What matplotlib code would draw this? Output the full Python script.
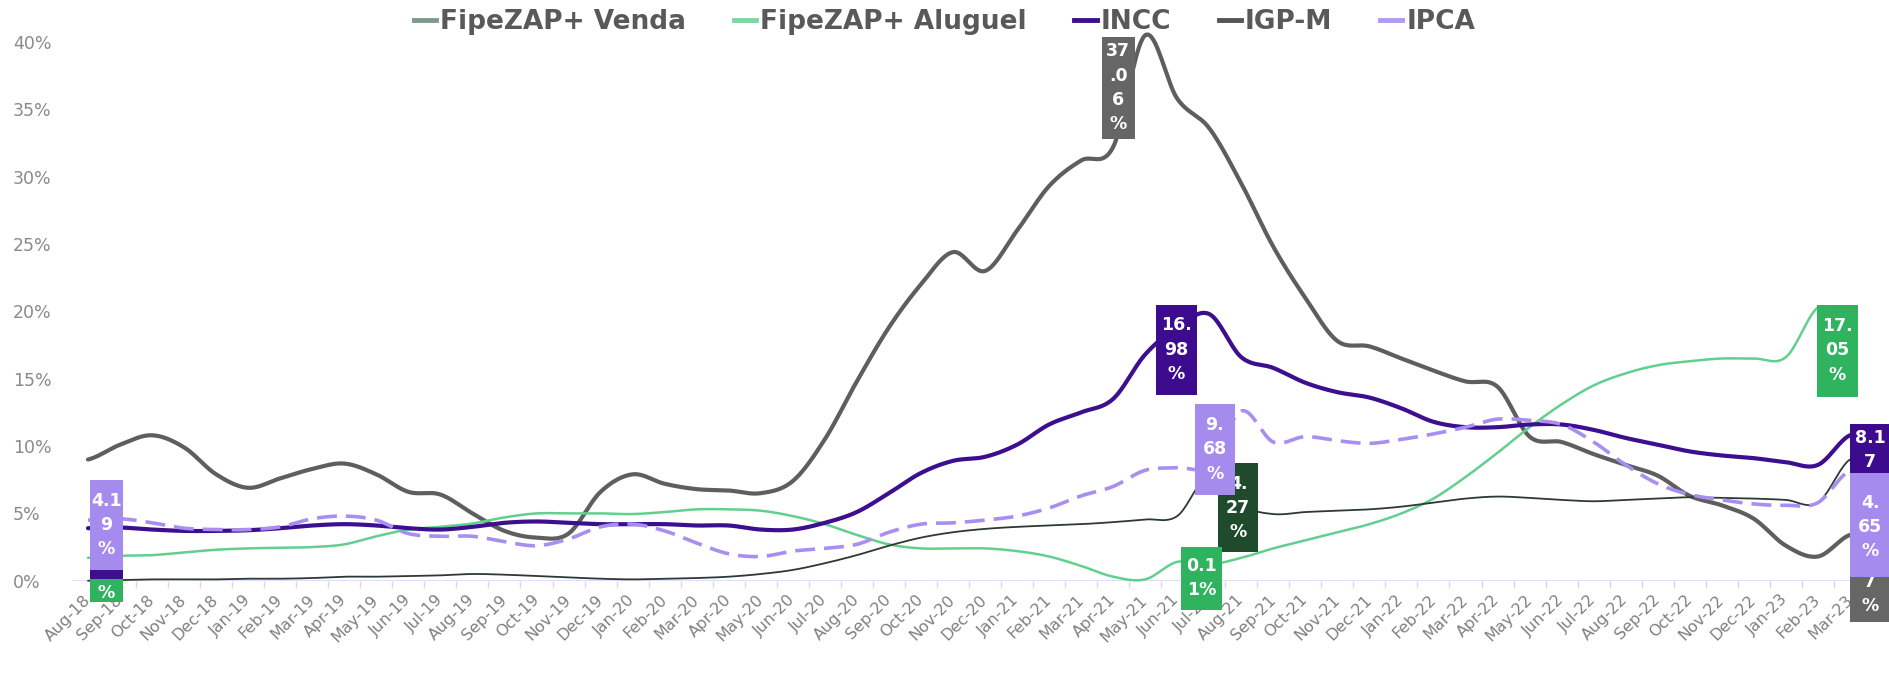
import numpy as np
import matplotlib
matplotlib.use('Agg')
from matplotlib import pyplot as plt
from matplotlib.lines import Line2D
from matplotlib.patches import Rectangle

months = ['Aug-18', 'Sep-18', 'Oct-18', 'Nov-18', 'Dec-18',
          'Jan-19', 'Feb-19', 'Mar-19', 'Apr-19', 'May-19', 'Jun-19',
          'Jul-19', 'Aug-19', 'Sep-19', 'Oct-19', 'Nov-19', 'Dec-19',
          'Jan-20', 'Feb-20', 'Mar-20', 'Apr-20', 'May-20', 'Jun-20',
          'Jul-20', 'Aug-20', 'Sep-20', 'Oct-20', 'Nov-20', 'Dec-20',
          'Jan-21', 'Feb-21', 'Mar-21', 'Apr-21', 'May-21', 'Jun-21',
          'Jul-21', 'Aug-21', 'Sep-21', 'Oct-21', 'Nov-21', 'Dec-21',
          'Jan-22', 'Feb-22', 'Mar-22', 'Apr-22', 'May-22', 'Jun-22',
          'Jul-22', 'Aug-22', 'Sep-22', 'Oct-22', 'Nov-22', 'Dec-22',
          'Jan-23', 'Feb-23', 'Mar-23']

# 12-month variation (%)
venda = [0.0, 0.05, 0.1, 0.1, 0.1, 0.15, 0.15, 0.2, 0.3, 0.3, 0.35,
         0.4, 0.5, 0.45, 0.35, 0.25, 0.15, 0.1, 0.15, 0.2, 0.3,
         0.5, 0.8, 1.3, 1.9, 2.6, 3.2, 3.6, 3.85, 4.0, 4.1,
         4.2, 4.35, 4.55, 4.8, 7.8, 5.6, 4.95, 5.1, 5.2, 5.3,
         5.5, 5.8, 6.1, 6.25, 6.15, 6.0, 5.9, 6.0, 6.1, 6.2,
         6.15, 6.1, 6.0, 5.8, 9.0]
aluguel = [1.7, 1.85, 1.9, 2.1, 2.3, 2.4, 2.45, 2.5, 2.7, 3.3, 3.8,
           4.0, 4.25, 4.7, 5.0, 5.0, 5.0, 4.95, 5.1, 5.3, 5.3,
           5.2, 4.8, 4.2, 3.4, 2.7, 2.4, 2.4, 2.4, 2.2, 1.8,
           1.1, 0.3, 0.1, 1.4, 1.2, 1.7, 2.4, 3.0, 3.6, 4.2,
           5.0, 6.1, 7.7, 9.5, 11.4, 13.1, 14.5, 15.4, 16.0, 16.3,
           16.5, 16.5, 16.6, 20.3]
incc = [3.9, 3.95, 3.8, 3.7, 3.7, 3.75, 3.9, 4.1, 4.2, 4.1, 3.9,
        3.8, 4.0, 4.3, 4.4, 4.3, 4.2, 4.2, 4.2, 4.1, 4.1,
        3.8, 3.8, 4.3, 5.1, 6.5, 8.0, 8.9, 9.2, 10.1, 11.6,
        12.5, 13.5, 16.8, 18.8, 19.8, 16.6, 15.8, 14.7, 14.0, 13.6,
        12.8, 11.8, 11.4, 11.4, 11.6, 11.6, 11.2, 10.6, 10.1, 9.6,
        9.3, 9.1, 8.8, 8.6, 10.8]
igpm = [9.0, 10.1, 10.8, 9.9, 7.9, 6.9, 7.6, 8.3, 8.7, 7.9, 6.6,
        6.4, 5.0, 3.7, 3.2, 3.5, 6.6, 7.9, 7.2, 6.8, 6.7,
        6.5, 7.4, 10.5, 14.8, 18.8, 22.0, 24.4, 23.0, 26.0, 29.3,
        31.2, 32.2, 40.5, 35.8, 33.6, 29.5, 24.8, 21.0, 17.8, 17.4,
        16.5, 15.6, 14.8, 14.4, 10.7, 10.3, 9.4, 8.6, 7.8, 6.3,
        5.6, 4.6, 2.6, 1.8, 3.4]
ipca = [4.5, 4.6, 4.3, 3.9, 3.8, 3.8, 4.0, 4.6, 4.8, 4.5, 3.5,
        3.3, 3.3, 2.9, 2.6, 3.1, 4.0, 4.2, 3.7, 2.8, 2.0,
        1.8, 2.2, 2.4, 2.7, 3.6, 4.2, 4.3, 4.5, 4.8, 5.4,
        6.3, 7.0, 8.2, 8.4, 8.6, 12.6, 10.3, 10.7, 10.4, 10.2,
        10.5, 10.9, 11.4, 12.0, 11.9, 11.6, 10.3, 8.6, 7.2, 6.4,
        6.0, 5.7, 5.6, 5.8, 8.2]


def smooth(vals, steps=20):
    # excel-like smoothed line (catmull-rom)
    y = np.array(vals, dtype=float)
    n = len(y)
    xs, ys = [], []
    t = np.linspace(0, 1, steps, endpoint=False)
    h00 = 2*t**3 - 3*t**2 + 1
    h10 = t**3 - 2*t**2 + t
    h01 = -2*t**3 + 3*t**2
    h11 = t**3 - t**2
    for i in range(n - 1):
        p0 = y[max(i - 1, 0)]
        p3 = y[min(i + 2, n - 1)]
        m1 = (y[i + 1] - p0) / 2
        m2 = (p3 - y[i]) / 2
        xs.extend(i + t)
        ys.extend(h00*y[i] + h10*m1 + h01*y[i + 1] + h11*m2)
    xs.append(n - 1)
    ys.append(y[-1])
    return np.array(xs), np.array(ys)


c_venda = '#2c3a31'
c_alug = '#62cf8e'
c_incc = '#3d0e8e'
c_igpm = '#5e5e5e'
c_ipca = '#a98ef2'

fig = plt.figure(figsize=(18.89, 6.73), dpi=100)
ax = fig.add_axes([0.0381, 0.1371, 0.9497, 0.8005])

ax.axhline(0, color='#ddd5f5', lw=1.2, zorder=1)

for vals, col, lw in [(igpm, c_igpm, 3.0),
                      (aluguel, c_alug, 1.8),
                      (venda, c_venda, 1.3),
                      (incc, c_incc, 3.0)]:
    xs, ys = smooth(vals)
    ax.plot(xs, ys, color=col, lw=lw, zorder=3, clip_on=False,
            solid_capstyle='round')
xs, ys = smooth(ipca)
ax.plot(xs, ys, color=c_ipca, lw=2.6, dashes=(5.5, 2.5), zorder=3,
        clip_on=False)

ax.set_xlim(-0.5, 55.5)
ax.set_ylim(0, 40)
ax.set_yticks(np.arange(0, 41, 5))
ax.set_yticklabels(['%d%%' % v for v in range(0, 41, 5)])
for lab in ax.get_yticklabels():
    lab.set_horizontalalignment('left')
ax.tick_params(axis='y', length=0, pad=42.5, labelsize=12.5,
               labelcolor='#8a8a8a')

ax.set_xticks(np.arange(len(months)))
ax.set_xticklabels(months, rotation=45, ha='right', va='center',
                   rotation_mode='anchor')
ax.set_xticks(np.arange(len(months)) + 0.5, minor=True)
ax.tick_params(axis='x', which='major', length=0, pad=12, labelsize=11.5,
               labelcolor='#808080')
ax.tick_params(axis='x', which='minor', length=5, width=1,
               color='#ddd5f5')
for s in ax.spines.values():
    s.set_visible(False)

# data label boxes: (x centre, y bottom, y top, width, text y, text, colour)
boxes = [
    (0.58, -1.6, 0.1, 1.03, -0.9, '%', '#2fb35f'),
    (0.58, 0.1, 0.8, 1.03, 0.45, '', '#3d0e8e'),
    (0.58, 0.8, 7.5, 1.03, 4.15, '4.1\n9\n%', '#a68bef'),
    (32.16, 32.8, 40.4, 1.03, 36.6, '37\n.0\n6\n%', '#666666'),
    (33.98, 13.8, 20.5, 1.28, 17.15, '16.\n98\n%', '#3d0c8e'),
    (35.9, 2.1, 8.75, 1.25, 5.4, '4.\n27\n%', '#1f4b2c'),
    (34.77, -2.15, 2.5, 1.28, 0.2, '0.1\n1%', '#2fb35f'),
    (35.17, 6.4, 13.1, 1.25, 9.75, '9.\n68\n%', '#a68bef'),
    (54.6, 13.65, 20.5, 1.28, 17.1, '17.\n05\n%', '#2fb35f'),
    (55.63, -3.1, 0.3, 1.28, -1.0, '7\n%', '#666666'),
    (55.63, 8.0, 11.6, 1.28, 9.7, '8.1\n7', '#3d0c8e'),
    (55.63, 0.3, 8.0, 1.28, 4.0, '4.\n65\n%', '#a68bef'),
]
z = 6
for xc, y0, y1, w, ty, txt, col in boxes:
    ax.add_patch(Rectangle((xc - w/2, y0), w, y1 - y0, facecolor=col,
                           edgecolor='none', zorder=z, clip_on=False))
    ax.text(xc, ty, txt, ha='center', va='center', color='white',
            fontsize=12.5, fontweight='bold', linespacing=1.45,
            zorder=z + 0.5, clip_on=False)
    z += 1

handles = [Line2D([], [], color='#7d9a8a', lw=3.5),
           Line2D([], [], color='#7fd6a2', lw=3.5),
           Line2D([], [], color=c_incc, lw=3.5),
           Line2D([], [], color='#555555', lw=3.5),
           Line2D([], [], color='#b09af2', lw=3.5)]
leg = ax.legend(handles, ['FipeZAP+ Venda', 'FipeZAP+ Aluguel', 'INCC',
                          'IGP-M', 'IPCA'],
                loc='center', bbox_to_anchor=(0.5, 0.967),
                bbox_transform=fig.transFigure, ncol=5, frameon=False,
                handlelength=0.85, handletextpad=0.15, columnspacing=1.8,
                prop={'size': 19, 'weight': 'bold'}, labelcolor='#595959')
leg.set_zorder(1)

plt.savefig('out.png', dpi=100)
